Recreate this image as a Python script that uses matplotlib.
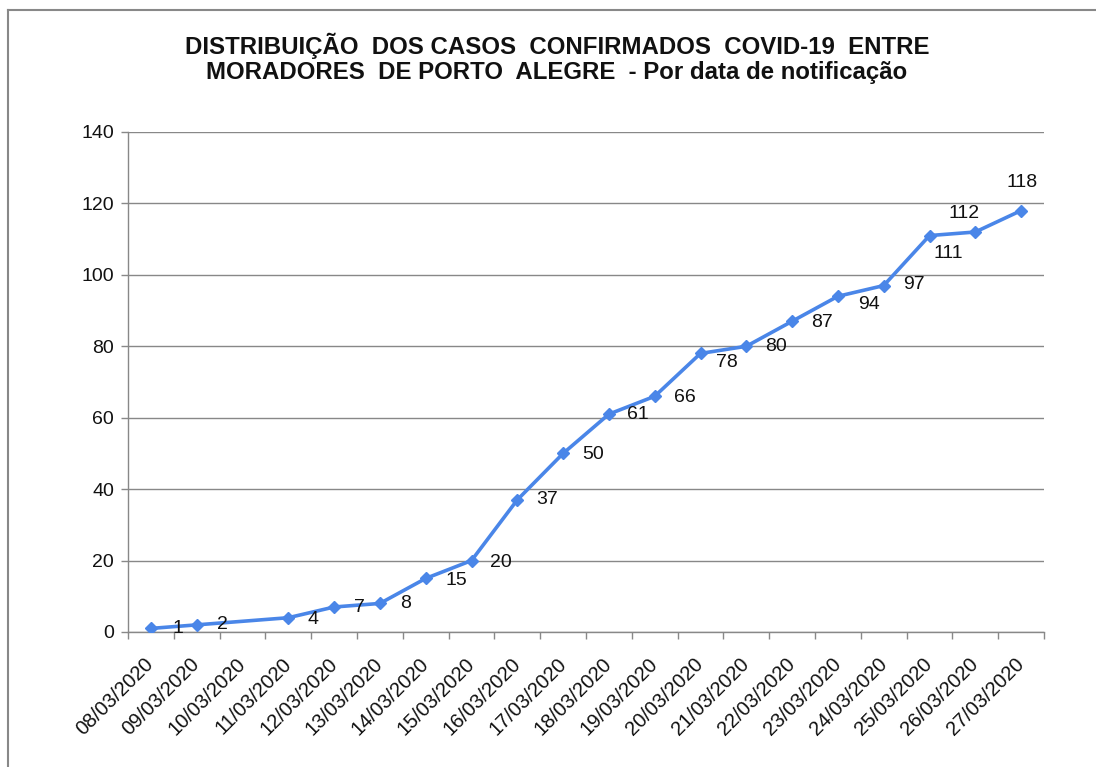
import numpy as np
import matplotlib
matplotlib.use("Agg")
import matplotlib.pyplot as plt
from matplotlib.lines import Line2D
from matplotlib.ticker import FixedLocator

plt.rcParams['font.family'] = ['Liberation Sans', 'DejaVu Sans']

# notification dates and confirmed cases (10/03 has no value)
dates = ["08/03/2020", "09/03/2020", "10/03/2020", "11/03/2020", "12/03/2020",
         "13/03/2020", "14/03/2020", "15/03/2020", "16/03/2020", "17/03/2020",
         "18/03/2020", "19/03/2020", "20/03/2020", "21/03/2020", "22/03/2020",
         "23/03/2020", "24/03/2020", "25/03/2020", "26/03/2020", "27/03/2020"]
cases = [1, 2, None, 4, 7, 8, 15, 20, 37, 50, 61, 66, 78, 80, 87, 94, 97, 111, 112, 118]

# label offsets in pixels (dx, dy) relative to the point
label_offsets = [(27, 0), (26, 0), (25, -2), (25, 0), (26, 0), (31, -2), (29, -2),
                 (30, 0), (30, -1), (29, 0), (30, -1), (26, -9), (30, 0), (30, -1),
                 (31, -8), (30, 1), (19, -18), (-11, 19), (1, 28)]

title = ("DISTRIBUIÇÃO  DOS CASOS  CONFIRMADOS  COVID-19  ENTRE\n"
         "MORADORES  DE PORTO  ALEGRE  - Por data de notificação")

W, H = 1096, 767
fig = plt.figure(figsize=(W / 100, H / 100), dpi=100)
ax = fig.add_axes([128 / W, (H - 632) / H, 916 / W, 500 / H])

xs = [i for i, v in enumerate(cases) if v is not None]
ys = [v for v in cases if v is not None]

color = "#4a86e8"
ax.plot(xs, ys, color=color, lw=2.6, marker="D", markersize=6.5, zorder=3)

for (x, y), (dx, dy) in zip(zip(xs, ys), label_offsets):
    ax.annotate(str(y), (x, y), xytext=(dx, dy), textcoords="offset pixels",
                ha="center", va="center", fontsize=14, color="#111111")

ax.set_xlim(-0.5, len(dates) - 0.5)
ax.set_ylim(0, 140)
ax.set_yticks(np.arange(0, 141, 20))
ax.set_xticks(np.arange(len(dates)))
ax.set_xticklabels(dates, rotation=45, ha="right", va="center",
                   rotation_mode="anchor", fontsize=14.5, color="#111111")
ax.tick_params(axis="x", which="major", length=0, pad=21)
ax.xaxis.set_minor_locator(FixedLocator(np.arange(-0.5, len(dates), 1)))
ax.tick_params(axis="x", which="minor", length=5, color="#888888", width=1)
ax.tick_params(axis="y", length=5, color="#888888", width=1, labelsize=14,
               labelcolor="#111111", pad=5)

ax.grid(axis="y", color="#888888", lw=1)
ax.set_axisbelow(True)
for s in ["top", "right"]:
    ax.spines[s].set_visible(False)
for s in ["left", "bottom"]:
    ax.spines[s].set_color("#888888")
    ax.spines[s].set_linewidth(1)

fig.text(557 / W, 1 - 58.5 / H, title, ha="center", va="center", fontsize=17.3,
         fontweight="bold", linespacing=1.1, color="#111111")

# chart border (left and top)
fig.add_artist(Line2D([8 / W, 8 / W], [0, 1 - 10 / H], transform=fig.transFigure,
                      color="#888888", lw=1.5))
fig.add_artist(Line2D([8 / W, 1], [1 - 10 / H, 1 - 10 / H], transform=fig.transFigure,
                      color="#888888", lw=1.5))

fig.savefig("out.png", dpi=100)
